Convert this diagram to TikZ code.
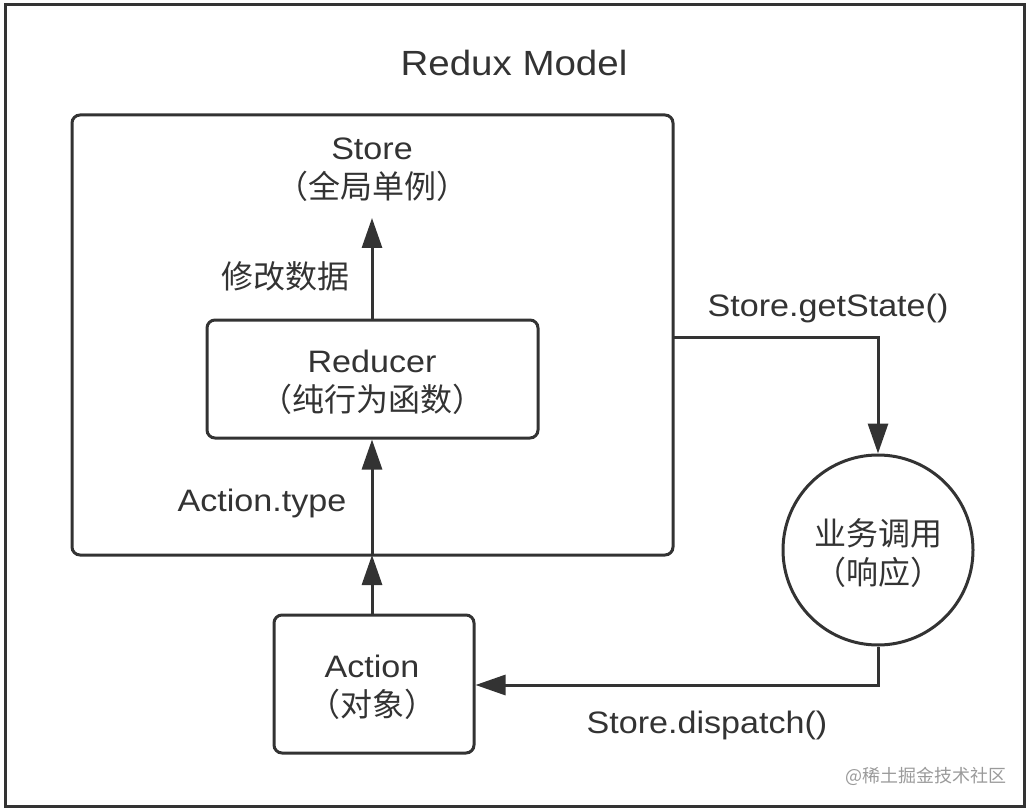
\documentclass[tikz,border=0pt]{standalone}
\usepackage{fontspec}
\setmainfont[FakeStretch=1.1]{Liberation Sans}
\newfontfamily\cjk{Noto Sans CJK SC}
\usetikzlibrary{arrows.meta}
\definecolor{ink}{HTML}{333333}
\definecolor{wm}{HTML}{9A9A9A}
\newcommand{\cj}[1]{{\cjk\fontsize{32}{36}\selectfont #1}}
\tikzset{
  box/.style={draw=ink, line width=3pt, rounded corners=8pt},
  lbl/.style={text=ink, font=\fontsize{31}{36}\selectfont, align=center, inner sep=0pt},
  arr/.style={draw=ink, line width=3pt, -{Triangle[length=30pt,width=20pt]}},
}
\begin{document}
\begin{tikzpicture}[x=1pt,y=-1pt]
\useasboundingbox (0,0) rectangle (1030,810);
\node[draw=ink, line width=3pt, minimum width=1019pt, minimum height=801pt, inner sep=0pt] (outer) at (514.5,405.5) {};
\node[lbl, font=\fontsize{35}{40}\selectfont] (title) at (514,63) {Redux Model};
% Store box
\node[box, minimum width=601pt, minimum height=440pt, inner sep=0pt] (store) at (372.5,335) {};
\node[lbl] (storetxt) at (372,170) {Store\\[3pt]\cj{（全局单例）}};
\coordinate (storetop) at (372,218);
% Reducer
\node[box, minimum width=331pt, minimum height=118pt, inner sep=0pt] (reducer) at (372.5,379) {};
\node[lbl] (redtxt) at (372,382) {Reducer\\[3pt]\cj{（纯行为函数）}};
% Action
\node[box, minimum width=200pt, minimum height=138pt, inner sep=0pt] (action) at (374,684) {};
\node[lbl] (acttxt) at (372,687) {Action\\[3pt]\cj{（对象）}};
% circle
\node[circle, draw=ink, line width=3pt, minimum size=190pt, inner sep=0pt] (biz) at (878,550) {};
\node[lbl] (biztxt) at (878,553) {\cj{业务调用}\\[3pt]\cj{（响应）}};
% labels
\node[lbl] (l1) at (285,276) {\cj{修改数据}};
\node[lbl] (l2) at (262,503) {Action.type};
\node[lbl] (l3) at (828,308) {Store.getState()};
\node[lbl] (l4) at (707,725) {Store.dispatch()};
\node[text=wm, font=\cjk\fontsize{18}{22}\selectfont, inner sep=0pt] (wm) at (926,776) {@稀土掘金技术社区};
% connectors
\coordinate (sb) at (372,555);
\draw[arr] (reducer.north -| storetop) -- (storetop);
\draw[arr] (action.north -| sb) -- (sb);
\draw[arr] (sb) -- (reducer.south -| sb);
\coordinate (gs) at (673,337);
\draw[arr] (gs) -| (biz.north);
\coordinate (dp) at (878,685);
\draw[arr] (biz.south) -- (dp) -- (action.east |- dp);
\end{tikzpicture}
\end{document}
